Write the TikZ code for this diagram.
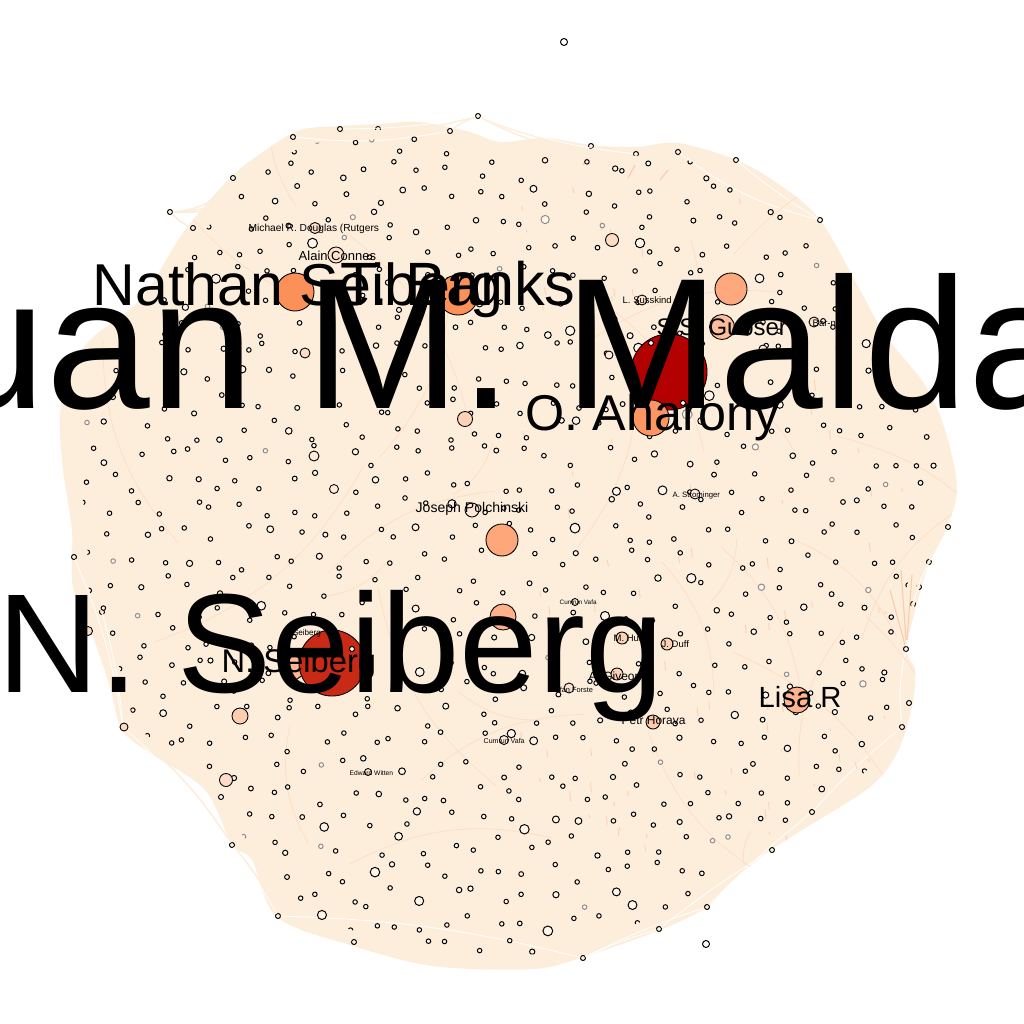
\documentclass[tikz,border=0pt]{standalone}
\usepackage{fontspec}
\setmainfont{Liberation Sans}
\usetikzlibrary{calc}
\definecolor{blobcol}{HTML}{FDEEDC}
\definecolor{edgecol}{HTML}{FCC9AC}
\definecolor{smallcol}{HTML}{FFF5EA}
\tikzset{
  smallnode/.style={circle,draw=black,fill=smallcol,line width=0.28pt,inner sep=0pt,minimum size=.05cm},
  hub/.style={circle,draw=black,line width=0.25pt,inner sep=0pt},
  lbl/.style={anchor=base west,inner sep=0pt,text=black},
  fan/.style={draw=blobcol,line width=0.45pt},
  gap/.style={draw=white,line width=0.22pt},
}
\newcommand{\blobpath}{plot[smooth cycle,tension=0.55] coordinates {(193,220) (233,175) (266,150) (300,130) (340,126) (380,124) (420,122) (470,132) (500,142) (545,138) (591,145) (636,147) (678,143) (736,160) (780,185) (820,220) (860,290) (885,335) (925,385) (945,430) (957,487) (947,527) (930,560) (918,600) (907,650) (915,670) (912,707) (897,753) (870,787) (807,827) (771,850) (730,883) (707,907) (660,930) (583,957) (533,969) (433,966) (350,945) (277,917) (252,860) (232,845) (205,790) (150,753) (122,730) (110,687) (93,637) (73,587) (72,530) (63,470) (60,420) (66,380) (90,340) (140,300) (175,245)}}
\begin{document}
\begin{tikzpicture}[x=0.01cm,y=-0.01cm]
\useasboundingbox (0,0) rectangle (1024,1024);
\fill[white] (0,0) rectangle (1024,1024);
\fill[blobcol] \blobpath;

% the two loose ones
\node[smallnode,fill=white,minimum size=.07cm] (outTop) at (564,42) {};
\node[smallnode,fill=white,minimum size=.07cm] (outBot) at (706,944) {};

% nodes on the rim
\foreach \nm/\px/\py in {hA/233/178, hB/293/137, hC/340/129, hD/378/129, hE/450/131, hF/478/116, hG/591/146, hH/636/154, hI/678/152, hJ/736/160, hK/820/220, hL/948/527, hM/929/562, hN/919/587, hO/913/604, hP/906/649, hQ/909/703, hR/902/727, hS/812/812, hT/772/850, hU/707/907, hV/659/929, hW/583/958, hX/354/942, hY/278/916, hZ/232/845, hAA/221/797, hAB/123/727, hAC/102/612, hAD/74/557, hAE/170/212, hAF/193/228}
  \node[smallnode] (\nm) at (\px,\py) {};

% edges round the rim
\foreach \a/\b/\ang in {hAE/hA/25, hAE/hB/30, hAE/hAF/10, hAE/hC/28, hA/hC/12, hB/hE/14, hC/hF/10, hF/hE/8, hF/hG/8, hF/hH/14, hG/hI/16, hH/hJ/12, hI/hK/18, hJ/hK/10, hL/hM/14, hM/hO/10, hL/hP/12, hN/hP/10, hP/hQ/14, hP/hR/16, hR/hS/10, hS/hU/8, hT/hV/8, hU/hW/10, hV/hW/10, hW/hX/10, hX/hY/8, hW/hY/11, hY/hZ/8, hZ/hAA/8, hAA/hAB/6, hZ/hAB/10, hAB/hAD/14, hAB/hAC/10, hAC/hAD/8}
  \draw[fan] (\a) to[bend right=\ang] (\b);
\foreach \a/\b/\ang in {hB/hE/8, hC/hF/5, hF/hH/7, hI/hK/11, hJ/hK/4, hL/hP/6, hM/hO/5, hP/hR/9, hR/hS/4, hS/hU/3, hT/hV/3, hU/hW/4, hV/hW/4, hW/hY/6, hY/hZ/3, hZ/hAB/5, hAB/hAD/7, hAB/hAC/5}
  \draw[gap] (\a) to[bend right=\ang] (\b);

% faint edges and short reddish streaks
\begin{scope}
\path[clip] \blobpath;
\pgfmathsetseed{4711}
\foreach \i in {1,...,34}{
  \pgfmathsetmacro{\px}{100+rnd*780}
  \pgfmathsetmacro{\py}{180+rnd*740}
  \pgfmathsetmacro{\qx}{\px+(rnd-.5)*420}
  \pgfmathsetmacro{\qy}{\py+(rnd-.5)*420}
  \draw[edgecol!40!blobcol,line width=0.25pt] (\px,\py) to[bend left=20] (\qx,\qy);
}
\foreach \i in {1,...,90}{
  \pgfmathsetmacro{\px}{520+rnd*390}
  \pgfmathsetmacro{\py}{180+rnd*680}
  \pgfmathsetmacro{\dy}{2+rnd*9}
  \draw[edgecol!80!blobcol,line width=0.25pt] (\px,\py) -- ++(1,\dy);
}
\foreach \px/\py/\qx/\qy in {901/570/906/640,890/590/905/645,912/575/907/640,587/158/583/165,668/170/660/180,635/165/628/178}
  \draw[edgecol,line width=0.3pt] (\px,\py) -- (\qx,\qy);
\end{scope}

% small nodes, a loose grid
\begin{scope}
\path[clip,scale around={0.965:(510,550)}] \blobpath;
\pgfmathsetseed{2024}
\foreach \x in {60,86,...,960}
  \foreach \y in {118,144,...,970}{
    \pgfmathsetmacro{\px}{\x+(rnd-.5)*21}
    \pgfmathsetmacro{\py}{\y+(rnd-.5)*21}
    \pgfmathsetmacro{\dia}{0.045+0.055*rnd^14}
    \pgfmathsetmacro{\shade}{rnd<0.07 ? 45 : 100}
    \node[smallnode,draw=black!\shade,minimum size=\dia cm] (s\x-\y) at (\px,\py) {};
  }
\end{scope}

% larger nodes
\foreach \nm/\px/\py/\dia/\col in {
  maldacena/669/372/.76/B30000,
  aharony/651/418/.36/FC9562,
  gubser/722/327/.25/FDBC9A,
  topright/731/289/.32/FDA87D,
  topmid/612/240/.13/FDDCC6,
  susskind/642/300/.10/FDE1CF,
  barnad/814/322/.10/FDE4D2,
  rightA/763/349/.08/FEE8D6,
  rightB/609/355/.08/FEEBDB,
  strominger/695/494/.10/FEEBDB,
  seibergB/292/667/.26/FDB795,
  seibergA/332/663/.66/C92A16,
  nathan/295/292/.38/FC9059,
  banks/458/295/.40/FC9059,
  centerA/502/540/.32/FDA77B,
  centerB/503/617/.26/FDB08A,
  leftUp/465/419/.15/FDD2B6,
  lowerA/240/716/.16/FDCDB0,
  lowerB/226/780/.13/FEDCC8,
  lisa/797/700/.26/FDB48F,
  horava/653/722/.14/FDCAAE,
  hull/622/638/.12/FDD2B6,
  duff/667/644/.12/FDD2B6,
  giveon/617/674/.12/FDD2B6,
  forste/569/688/.10/FDE1CF,
  connes/336/255/.16/FEE1CC,
  douglas/315/228/.11/FEE1CC,
  polchinski/472/510/.14/FEE8D6,
  smallA/305/353/.10/FEDCC8,
  smallB/314/456/.10/FEEBDB,
  smallC/334/489/.09/FEEBDB,
  smallD/88/631/.09/FDDCC6,
  smallE/124/727/.08/FDDCC6,
  vafaA/575/602/.07/FEEBDB,
  vafaB/504/740/.09/FEEBDB,
  witten/368/772/.07/FEEBDB}{
  \definecolor{hubcol}{HTML}{\col}
  \node[hub,fill=hubcol,minimum size=\dia cm] (\nm) at (\px,\py) {};
}
% small ones lying on the red nodes
\node[smallnode,fill=white] (onA) at (651,343) {};
\node[smallnode,fill=white] (onB) at (683,403) {};
\node[smallnode,fill=white] (onC) at (352,649) {};

% labels
\node[lbl,font=\fontsize{2.3}{3}\selectfont] (lbSeibergS) at (282,635) {N. Seiberg};
\node[lbl,font=\fontsize{2.9}{4}\selectfont] (lbDouglas) at (248,231) {Michael R. Douglas (Rutgers};
\node[lbl,font=\fontsize{3.7}{5}\selectfont] (lbConnes) at (298,260) {Alain Connes};
\node[lbl,font=\fontsize{4}{5}\selectfont] (lbPolch) at (415,512) {Joseph Polchinski};
\node[lbl,font=\fontsize{2.7}{4}\selectfont] (lbSuss) at (622,303) {L. Susskind};
\node[lbl,font=\fontsize{2.7}{4}\selectfont] (lbBar) at (812,326) {Bar-nad};
\node[lbl,font=\fontsize{2.2}{3}\selectfont] (lbStrom) at (672,497) {A. Strominger};
\node[lbl,font=\fontsize{1.8}{3}\selectfont] (lbVafaA) at (559,604) {Cumrun Vafa};
\node[lbl,font=\fontsize{2}{3}\selectfont] (lbVafaB) at (483,743) {Cumrun Vafa};
\node[lbl,font=\fontsize{1.9}{3}\selectfont] (lbWitten) at (349,775) {Edward Witten};
\node[lbl,font=\fontsize{2.7}{4}\selectfont] (lbHull) at (613,641) {M. Hull};
\node[lbl,font=\fontsize{2.7}{4}\selectfont] (lbDuff) at (661,647) {J. Duff};
\node[lbl,font=\fontsize{3.4}{5}\selectfont] (lbGiveon) at (588,680) {A. Giveon};
\node[lbl,font=\fontsize{2.1}{3}\selectfont] (lbForste) at (548,692) {Stefan Forste};
\node[lbl,font=\fontsize{3.4}{4}\selectfont] (lbHorava) at (621,724) {Petr Horava};
\node[lbl,font=\fontsize{6.8}{9}\selectfont] (lbGubser) at (656,335) {S.S. Gubser};
\node[lbl,font=\fontsize{8.3}{10}\selectfont] (lbLisa) at (758,707) {Lisa R};
\node[lbl,font=\fontsize{9.3}{11}\selectfont] (lbSeibergM) at (221,672) {N. Seiberg};
\node[lbl,font=\fontsize{16.8}{20}\selectfont] (lbNathan) at (92,305) {Nathan Seiberg};
\node[lbl,font=\fontsize{17.4}{21}\selectfont] (lbBanks) at (340,305) {T. Banks};
\node[lbl,font=\fontsize{14.3}{18}\selectfont] (lbAharony) at (525,430) {O. Aharony};
\node[lbl,font=\fontsize{40.1}{48}\selectfont] (lbSeiberg) at (-3,692) {N. Seiberg};
\node[lbl,font=\fontsize{53}{60}\selectfont] (lbMalda) at (-151,408) {Juan M. Maldacena};
\end{tikzpicture}
\end{document}
